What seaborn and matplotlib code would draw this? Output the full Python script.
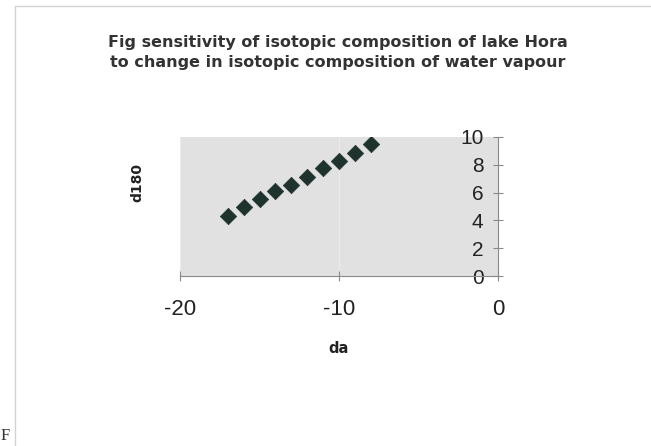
import matplotlib
import seaborn as sns
import pandas as pd

matplotlib.use("Agg")
import matplotlib.pyplot as plt
from matplotlib.lines import Line2D

# values
da = [-17, -16, -15, -14, -13, -12, -11, -10, -9, -8]
d180 = [4.35, 4.98, 5.51, 6.09, 6.57, 7.15, 7.76, 8.26, 8.84, 9.47]
x_ticks = [-20, -10, 0]
y_ticks = [0, 2, 4, 6, 8, 10]
title_lines = [
    "Fig sensitivity of isotopic composition of lake Hora",
    "to change in isotopic composition of water vapour",
]

df = pd.DataFrame({"da": da, "d180": d180})

sns.set_theme(style="white")
plt.rcParams["font.family"] = ["Liberation Sans", "DejaVu Sans"]
plt.rcParams["axes.unicode_minus"] = False  # plain hyphen like Excel

W, H = 651, 446
fig = plt.figure(figsize=(W / 100, H / 100), dpi=100)
ax = fig.add_axes([180 / W, 1 - 276 / H, (498 - 180) / W, (276 - 137) / H])
ax.set_facecolor("#e1e1e1")

sns.scatterplot(data=df, x="da", y="d180", marker="D", s=70,
                color="#1e332e", edgecolor="#1e332e", linewidth=0.5, ax=ax, zorder=3)

ax.set_xlim(-20, 0)
ax.set_ylim(0, 10)
ax.set_xticks(x_ticks)
ax.set_yticks(y_ticks)
ax.grid(axis="x", color="#ececec", linewidth=0.8)
ax.set_axisbelow(True)

# Excel style: value axis crosses at x = 0
ax.spines["left"].set_position(("data", 0))
ax.spines["right"].set_visible(False)
ax.spines["top"].set_visible(False)
for side in ["left", "bottom"]:
    ax.spines[side].set_color("#8a8a8a")
    ax.spines[side].set_linewidth(0.8)

ax.tick_params(axis="x", bottom=True, direction="inout", length=7, width=0.8,
               color="#8a8a8a", pad=13, labelsize=16, labelcolor="#222222")
ax.tick_params(axis="y", left=True, direction="inout", length=7, width=0.8,
               color="#8a8a8a", pad=7, labelsize=15, labelcolor="#222222")

ax.set_xlabel("da", fontsize=10.5, fontweight="bold", family="DejaVu Sans",
              color="#222222", labelpad=0)
ax.xaxis.set_label_coords(0.5, 1 - (341 - 137) / (276 - 137))
ax.set_ylabel("d180", fontsize=10, fontweight="bold", family="DejaVu Sans",
              color="#222222")
ax.yaxis.set_label_coords((144 - 180) / (498 - 180), 1 - (182 - 137) / (276 - 137))

# two-line title
for text, ypx in zip(title_lines, [42, 63]):
    fig.text(338 / W, 1 - ypx / H, text, ha="center", va="center",
             fontsize=11.5, fontweight="bold", family="DejaVu Sans", color="#333333")

# chart frame and stray scan mark
fig.add_artist(Line2D([15 / W, 15 / W], [0, 1 - 6 / H], transform=fig.transFigure,
                      color="#d2d2d2", linewidth=1))
fig.add_artist(Line2D([15 / W, 1], [1 - 6 / H, 1 - 6 / H], transform=fig.transFigure,
                      color="#d2d2d2", linewidth=1))
fig.text(1 / W, 1 - 436 / H, "F", ha="left", va="center", fontsize=12,
         family="Liberation Serif", color="#333333")

fig.savefig("out.png", dpi=100)
